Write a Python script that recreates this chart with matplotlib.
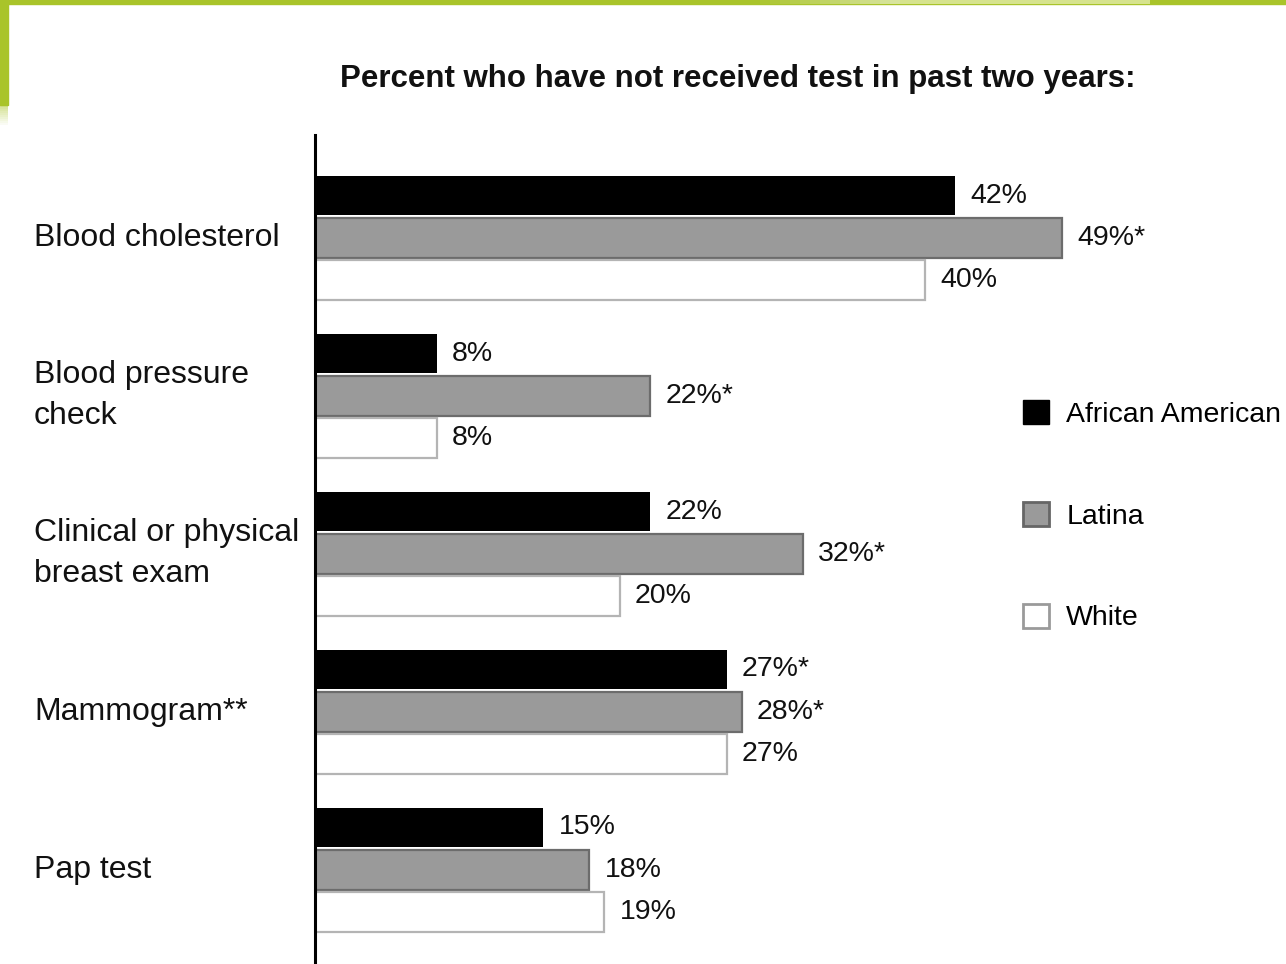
import matplotlib
matplotlib.use("Agg")
import matplotlib.pyplot as plt
import numpy as np
from matplotlib.patches import Rectangle, Patch
from matplotlib.transforms import blended_transform_factory

categories = ['Blood cholesterol', 'Blood pressure\ncheck',
              'Clinical or physical\nbreast exam', 'Mammogram**', 'Pap test']
groups = ['African American', 'Latina', 'White']
african_american = [42, 8, 22, 27, 15]
latina = [49, 22, 32, 28, 18]
white = [40, 8, 20, 27, 19]
aa_labels = ['42%', '8%', '22%', '27%*', '15%']
latina_labels = ['49%*', '22%*', '32%*', '28%*', '18%']
white_labels = ['40%', '8%', '20%', '27%', '19%']

plt.rcParams['font.family'] = ['Liberation Sans Narrow', 'Liberation Sans', 'DejaVu Sans']

W, H = 1286, 964
fig = plt.figure(figsize=(W / 100, H / 100), dpi=100)

# green frame in the top left corner
green = '#a9c42a'
fig.patches.append(Rectangle((0, 1 - 4 / H), 1, 4 / H, transform=fig.transFigure,
                             color=green, zorder=0))
for i in range(14):
    fig.patches.append(Rectangle(((760 + 10 * i) / W, 1 - 4 / H), 10 / W, 4 / H,
                                 transform=fig.transFigure, color='white',
                                 alpha=0.55 * (i + 1) / 14, lw=0, zorder=0))
fig.patches.append(Rectangle((900 / W, 1 - 4 / H), 250 / W, 4 / H, transform=fig.transFigure,
                             color='#d6e38e', lw=0, zorder=0))
fig.patches.append(Rectangle((0, 1 - 105 / H), 7.5 / W, 105 / H, transform=fig.transFigure,
                             color=green, zorder=0))
for i in range(10):
    fig.patches.append(Rectangle((0, 1 - (107 + 2 * i) / H), 7.5 / W, 2 / H,
                                 transform=fig.transFigure, color=green,
                                 alpha=0.5 * (1 - i / 10), lw=0, zorder=0))

ax = fig.add_axes([314.5 / W, 0, (W - 314.5) / W, (H - 135) / H])
ax.set_xlim(0, (W - 314.5) / 15.26)
ax.set_ylim(4.598, -0.649)

y = np.arange(len(categories))
off = 0.266
h = 0.253
series = [
    (african_american, aa_labels, -off, dict(color='black', edgecolor='black', linewidth=0)),
    (latina, latina_labels, 0, dict(color='#9a9a9a', edgecolor='#6c6c6c', linewidth=1.6)),
    (white, white_labels, off, dict(color='white', edgecolor='#b4b4b4', linewidth=1.6)),
]
for vals, labs, dy, style in series:
    ax.barh(y + dy, vals, height=h, zorder=2, **style)
    for yy, v, lab in zip(y + dy, vals, labs):
        ax.text(v + 1.0, yy, lab, va='center', ha='left', fontsize=20.5, color='#111111')

for s in ['top', 'right', 'bottom']:
    ax.spines[s].set_visible(False)
ax.spines['left'].set_linewidth(2.2)
ax.spines['left'].set_zorder(3)
ax.set_xticks([])
ax.set_yticks([])

trans = blended_transform_factory(fig.transFigure, ax.transData)
for yy, cat in zip(y, categories):
    ax.text(34 / W, yy, cat, transform=trans, ha='left', va='center',
            fontsize=23, color='#111111', linespacing=1.45)

fig.text(738 / W, 1 - 79 / H, 'Percent who have not received test in past two years:',
         ha='center', va='center', fontsize=22.5, fontweight='bold', color='#111111')

handles = [Patch(facecolor='black', edgecolor='black'),
           Patch(facecolor='#9a9a9a', edgecolor='#666666', linewidth=2),
           Patch(facecolor='white', edgecolor='#9a9a9a', linewidth=2)]
fig.legend(handles, groups, loc='upper left', bbox_to_anchor=(1023 / W, 1 - 400 / H),
           frameon=False, fontsize=20.5, handlelength=0.92, handleheight=0.92,
           handletextpad=0.6, labelspacing=2.6, borderaxespad=0, borderpad=0)

fig.savefig('out.png', dpi=100)
